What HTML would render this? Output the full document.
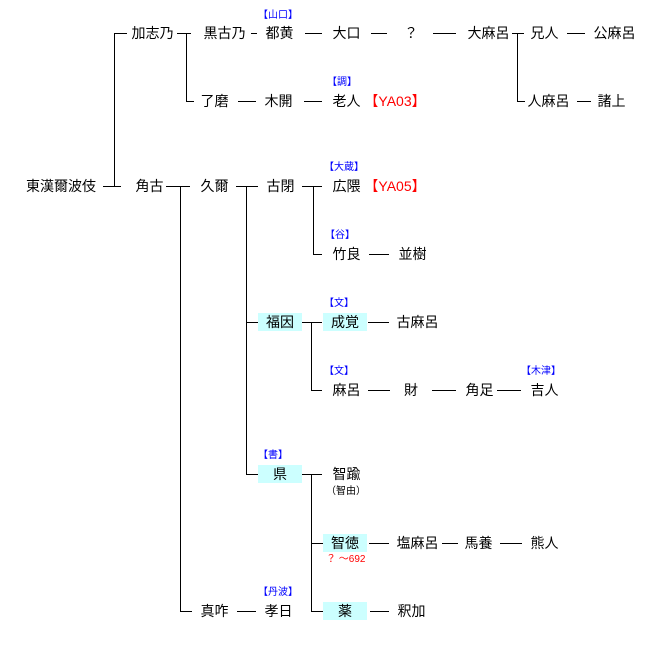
<!DOCTYPE html>
<html><head><meta charset="utf-8"><style>
body{margin:0;width:645px;height:654px;background:#fff;position:relative;overflow:hidden;font-family:"Liberation Sans","Noto Sans CJK JP",sans-serif;}
.t{position:absolute;font-size:14px;line-height:18px;height:18px;white-space:nowrap;color:#000;text-align:center}
.b{background:#ccffff}
.s{position:absolute;font-size:10px;line-height:11px;color:#00f;white-space:nowrap}
.r{color:#f00}
.h{position:absolute;height:1px;background:#000}
.v{position:absolute;width:1px;background:#000}
</style></head><body>
<!-- row 33 -->
<div class="t" style="left:131px;top:24px;width:43px">加志乃</div>
<div class="t" style="left:203px;top:24px;width:43px">黒古乃</div>
<div class="t" style="left:265px;top:24px;width:29px">都黄</div>
<div class="t" style="left:332px;top:24px;width:29px">大口</div>
<div class="t" style="left:404px;top:24px;width:14px">？</div>
<div class="t" style="left:467px;top:24px;width:43px">大麻呂</div>
<div class="t" style="left:530px;top:24px;width:29px">兄人</div>
<div class="t" style="left:593px;top:24px;width:43px">公麻呂</div>
<div class="s" style="left:258px;top:10px">【山口】</div>
<div class="h" style="left:114px;top:33px;width:13px"></div>
<div class="h" style="left:177px;top:33px;width:14px"></div>
<div class="h" style="left:251px;top:33px;width:6px"></div>
<div class="h" style="left:305px;top:33px;width:17px"></div>
<div class="h" style="left:371px;top:33px;width:16px"></div>
<div class="h" style="left:433px;top:33px;width:23px"></div>
<div class="h" style="left:512px;top:33px;width:12px"></div>
<div class="h" style="left:567px;top:33px;width:18px"></div>
<div class="v" style="left:186px;top:33px;height:68px"></div>
<div class="v" style="left:517px;top:33px;height:68px"></div>
<!-- row 101 -->
<div class="h" style="left:186px;top:101px;width:8px"></div>
<div class="h" style="left:517px;top:101px;width:8px"></div>
<div class="t" style="left:200px;top:92px;width:29px">了磨</div>
<div class="t" style="left:264px;top:92px;width:29px">木開</div>
<div class="t" style="left:332px;top:92px;width:29px">老人</div>
<div class="t r" style="left:364px;top:92px;width:62px">【YA03】</div>
<div class="t" style="left:527px;top:92px;width:43px">人麻呂</div>
<div class="t" style="left:597px;top:92px;width:29px">諸上</div>
<div class="s" style="left:327px;top:77px">【調】</div>
<div class="h" style="left:238px;top:101px;width:18px"></div>
<div class="h" style="left:304px;top:101px;width:18px"></div>
<div class="h" style="left:577px;top:101px;width:14px"></div>
<!-- row 186 -->
<div class="v" style="left:114px;top:33px;height:153px"></div>
<div class="t" style="left:25px;top:177px;width:72px">東漢爾波伎</div>
<div class="h" style="left:103px;top:186px;width:18px"></div>
<div class="t" style="left:135px;top:177px;width:29px">角古</div>
<div class="h" style="left:166px;top:186px;width:24px"></div>
<div class="t" style="left:200px;top:177px;width:29px">久爾</div>
<div class="h" style="left:236px;top:186px;width:22px"></div>
<div class="t" style="left:266px;top:177px;width:29px">古閉</div>
<div class="h" style="left:302px;top:186px;width:20px"></div>
<div class="t" style="left:332px;top:177px;width:29px">広隈</div>
<div class="t r" style="left:364px;top:177px;width:62px">【YA05】</div>
<div class="s" style="left:324px;top:162px">【大蔵】</div>
<div class="v" style="left:180px;top:186px;height:425px"></div>
<div class="v" style="left:246px;top:186px;height:288px"></div>
<div class="v" style="left:313px;top:186px;height:68px"></div>
<!-- row 254 -->
<div class="h" style="left:313px;top:254px;width:9px"></div>
<div class="t" style="left:332px;top:245px;width:29px">竹良</div>
<div class="h" style="left:369px;top:254px;width:20px"></div>
<div class="t" style="left:398px;top:245px;width:29px">並樹</div>
<div class="s" style="left:325px;top:230px">【谷】</div>
<!-- row 322 -->
<div class="h" style="left:246px;top:322px;width:12px"></div>
<div class="t b" style="left:258px;top:313px;width:44px">福因</div>
<div class="h" style="left:302px;top:322px;width:20px"></div>
<div class="v" style="left:311px;top:322px;height:68px"></div>
<div class="t b" style="left:323px;top:313px;width:44px">成覚</div>
<div class="h" style="left:368px;top:322px;width:21px"></div>
<div class="t" style="left:396px;top:313px;width:43px">古麻呂</div>
<div class="s" style="left:324px;top:298px">【文】</div>
<!-- row 390 -->
<div class="h" style="left:311px;top:390px;width:11px"></div>
<div class="t" style="left:332px;top:381px;width:29px">麻呂</div>
<div class="h" style="left:368px;top:390px;width:22px"></div>
<div class="t" style="left:404px;top:381px;width:14px">財</div>
<div class="h" style="left:432px;top:390px;width:24px"></div>
<div class="t" style="left:465px;top:381px;width:29px">角足</div>
<div class="h" style="left:497px;top:390px;width:24px"></div>
<div class="t" style="left:530px;top:381px;width:29px">吉人</div>
<div class="s" style="left:324px;top:366px">【文】</div>
<div class="s" style="left:521px;top:366px">【木津】</div>
<!-- row 474 -->
<div class="h" style="left:246px;top:474px;width:12px"></div>
<div class="t b" style="left:258px;top:465px;width:44px">県</div>
<div class="h" style="left:302px;top:474px;width:20px"></div>
<div class="v" style="left:311px;top:474px;height:137px"></div>
<div class="t" style="left:332px;top:465px;width:29px">智踰</div>
<div class="s" style="left:326px;top:486px;color:#000">（智由）</div>
<div class="s" style="left:258px;top:450px">【書】</div>
<!-- row 543 -->
<div class="h" style="left:311px;top:543px;width:12px"></div>
<div class="t b" style="left:323px;top:534px;width:44px">智徳</div>
<div class="s r" style="left:326px;top:554px">？ ～692</div>
<div class="h" style="left:369px;top:543px;width:20px"></div>
<div class="t" style="left:396px;top:534px;width:43px">塩麻呂</div>
<div class="h" style="left:442px;top:543px;width:16px"></div>
<div class="t" style="left:464px;top:534px;width:29px">馬養</div>
<div class="h" style="left:500px;top:543px;width:22px"></div>
<div class="t" style="left:530px;top:534px;width:29px">熊人</div>
<!-- row 611 -->
<div class="h" style="left:180px;top:611px;width:12px"></div>
<div class="t" style="left:200px;top:602px;width:29px">真咋</div>
<div class="h" style="left:237px;top:611px;width:19px"></div>
<div class="t" style="left:264px;top:602px;width:29px">孝日</div>
<div class="s" style="left:258px;top:587px">【丹波】</div>
<div class="h" style="left:311px;top:611px;width:12px"></div>
<div class="t b" style="left:323px;top:602px;width:44px">薬</div>
<div class="h" style="left:370px;top:611px;width:19px"></div>
<div class="t" style="left:397px;top:602px;width:29px">釈加</div>
</body></html>
